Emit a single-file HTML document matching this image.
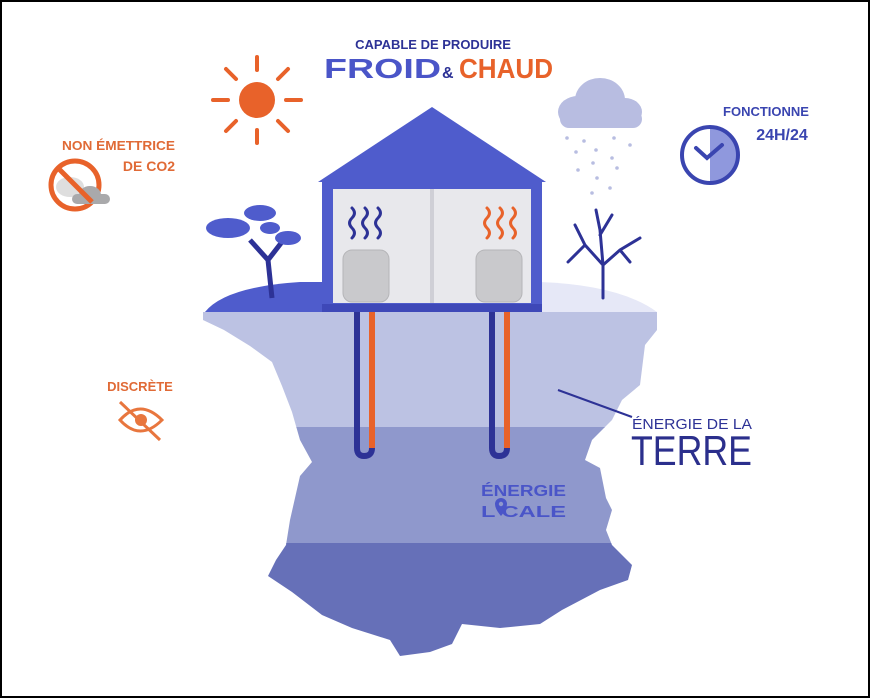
<!DOCTYPE html>
<html><head><meta charset="utf-8"><style>
html,body{margin:0;padding:0;background:#fff}
svg{display:block}
text{font-family:"Liberation Sans",sans-serif;font-weight:bold}
</style></head><body>
<svg width="870" height="698" viewBox="0 0 870 698" xmlns="http://www.w3.org/2000/svg">
<rect x="1" y="1" width="868" height="696" fill="#fff" stroke="#000" stroke-width="2"/>
<defs>
<clipPath id="fr"><path d="M203,312 L657,312 L657,330 L645,345 L640,385 L622,400 L612,420 L592,440 L585,460 L600,468 L606,498 L612,510 L606,530 L612,545 L632,565 L628,580 L600,590 L562,610 L540,624 L500,628 L462,624 L452,644 L430,652 L400,656 L390,640 L352,628 L322,615 L292,592 L268,576 L276,560 L286,545 L290,520 L300,476 L312,462 L300,440 L292,412 L282,386 L272,362 L250,346 L224,330 L203,320 Z"/></clipPath>
</defs>
<path d="M205,312 Q230,285 330,282 L540,282 Q620,285 657,312 Z" fill="#e6e8f7"/>
<path d="M205,312 Q225,287 300,282 L330,282 L330,312 Z" fill="#4f5ccc"/>
<g clip-path="url(#fr)">
<rect x="200" y="310" width="470" height="118" fill="#bcc2e3"/>
<rect x="200" y="427" width="470" height="117" fill="#8f98cc"/>
<rect x="200" y="543" width="470" height="120" fill="#6670b8"/>
</g>
<path d="M357,305 L357,448 Q357,456 364,456 Q372,456 372,448 L372,305" fill="none" stroke="#2d3296" stroke-width="6"/>
<path d="M372,305 L372,448" stroke="#e8622a" stroke-width="6"/>
<path d="M492,305 L492,448 Q492,456 499,456 Q507,456 507,448 L507,305" fill="none" stroke="#2d3296" stroke-width="6"/>
<path d="M507,305 L507,448" stroke="#e8622a" stroke-width="6"/>
<polygon points="432,107 318,182 546,182" fill="#4f5ccc"/>
<rect x="322" y="182" width="220" height="125" fill="#4f5ccc"/>
<rect x="333" y="189" width="198" height="114" fill="#e8e8ec"/>
<rect x="430" y="189" width="4" height="114" fill="#cfcfd6"/>
<rect x="322" y="304" width="220" height="8" fill="#3e48b8"/>
<rect x="343" y="250" width="46" height="52" rx="9" fill="#c9c9cc" stroke="#b5b5b8"/>
<rect x="476" y="250" width="46" height="52" rx="9" fill="#c9c9cc" stroke="#b5b5b8"/>
<g fill="none" stroke-width="3" stroke-linecap="round">
<g stroke="#2d3296">
<path d="M352,208 q5,5 0,10 q-5,5 0,10 q5,5 0,10"/><path d="M365,208 q5,5 0,10 q-5,5 0,10 q5,5 0,10"/><path d="M378,208 q5,5 0,10 q-5,5 0,10 q5,5 0,10"/></g>
<g stroke="#e8622a">
<path d="M487,208 q5,5 0,10 q-5,5 0,10 q5,5 0,10"/><path d="M500,208 q5,5 0,10 q-5,5 0,10 q5,5 0,10"/><path d="M513,208 q5,5 0,10 q-5,5 0,10 q5,5 0,10"/></g>
</g>
<path d="M272,298 L268,260 L250,240 M268,260 L285,238" stroke="#2d3296" stroke-width="5" fill="none"/>
<g fill="#4f5ccc"><ellipse cx="228" cy="228" rx="22" ry="10"/><ellipse cx="260" cy="213" rx="16" ry="8"/><ellipse cx="288" cy="238" rx="13" ry="7"/><ellipse cx="270" cy="228" rx="10" ry="6"/></g>
<g stroke="#2d3296" stroke-width="3" fill="none" stroke-linecap="round">
<path d="M603,298 L603,265 L585,245 L575,225 M603,265 L620,250 L640,238 M603,265 L600,230 L596,210 M600,235 L612,215 M585,245 L568,262 M620,250 L630,262"/></g>
<circle cx="257" cy="100" r="18" fill="#e8622a"/>
<g stroke="#e8622a" stroke-width="4" stroke-linecap="round">
<line x1="257" y1="57" x2="257" y2="70"/><line x1="257" y1="130" x2="257" y2="143"/><line x1="213" y1="100" x2="228" y2="100"/><line x1="286" y1="100" x2="301" y2="100"/>
<line x1="226" y1="69" x2="236" y2="79"/><line x1="278" y1="121" x2="288" y2="131"/><line x1="226" y1="131" x2="236" y2="121"/><line x1="278" y1="79" x2="288" y2="69"/></g>
<g fill="#b8bde1"><ellipse cx="600" cy="100" rx="25" ry="22"/><ellipse cx="578" cy="112" rx="20" ry="16"/><ellipse cx="625" cy="112" rx="17" ry="14"/><rect x="560" y="110" width="82" height="18" rx="9"/></g>
<g fill="#b8bde1"><circle cx="567" cy="138" r="1.8"/><circle cx="584" cy="141" r="1.8"/><circle cx="614" cy="138" r="1.8"/><circle cx="630" cy="145" r="1.8"/><circle cx="576" cy="152" r="1.8"/><circle cx="596" cy="150" r="1.8"/><circle cx="612" cy="158" r="1.8"/><circle cx="593" cy="163" r="1.8"/><circle cx="578" cy="170" r="1.8"/><circle cx="617" cy="168" r="1.8"/><circle cx="597" cy="178" r="1.8"/><circle cx="592" cy="193" r="1.8"/><circle cx="610" cy="188" r="1.8"/></g>
<path d="M710,127 A28,28 0 0 1 710,183 Z" fill="#8f98dd"/>
<circle cx="710" cy="155" r="28" fill="none" stroke="#3a45b0" stroke-width="4"/>
<path d="M696,148 L707,158 L722,145" stroke="#3a45b0" stroke-width="4" fill="none" stroke-linecap="round"/>
<text x="766" y="116" font-size="13" fill="#3a45b0" text-anchor="middle">FONCTIONNE</text>
<text x="782" y="140" font-size="16" fill="#3a45b0" text-anchor="middle">24H/24</text>
<text x="433" y="49" font-size="13" fill="#2d3296" text-anchor="middle">CAPABLE DE PRODUIRE</text>
<text x="324" y="78" font-size="28" fill="#4a55c8" textLength="117" lengthAdjust="spacingAndGlyphs">FROID</text>
<text x="442" y="78" font-size="16" fill="#2d3296">&amp;</text>
<text x="459" y="78" font-size="28" fill="#e8622a" textLength="94" lengthAdjust="spacingAndGlyphs">CHAUD</text>
<text x="62" y="150" font-size="13" fill="#e06a36" textLength="113" lengthAdjust="spacingAndGlyphs">NON ÉMETTRICE</text>
<text x="175" y="171" font-size="14" fill="#e06a36" text-anchor="end">DE CO2</text>
<circle cx="75" cy="185" r="24" fill="none" stroke="#e8622a" stroke-width="5"/>
<g fill="#dedede"><ellipse cx="70" cy="187" rx="14" ry="10"/></g>
<g fill="#a9a9ab"><ellipse cx="90" cy="195" rx="11" ry="9"/><rect x="72" y="194" width="38" height="10" rx="5"/></g>
<line x1="58" y1="168" x2="92" y2="202" stroke="#e8622a" stroke-width="5"/>
<text x="140" y="391" font-size="13" fill="#e06a36" text-anchor="middle">DISCRÈTE</text>
<path d="M120,420 Q140,398 162,420 Q140,442 120,420 Z" fill="none" stroke="#e8763e" stroke-width="3"/>
<circle cx="141" cy="420" r="6" fill="#e8763e"/>
<line x1="120" y1="402" x2="160" y2="440" stroke="#e8763e" stroke-width="3"/>
<line x1="558" y1="390" x2="632" y2="417" stroke="#2d3296" stroke-width="2"/>
<text x="632" y="429" font-size="15" fill="#2d3296" style="font-weight:normal" textLength="120" lengthAdjust="spacingAndGlyphs">ÉNERGIE DE LA</text>
<text x="631" y="465" font-size="42" fill="#2b2f8c" style="font-weight:normal" textLength="121" lengthAdjust="spacingAndGlyphs">TERRE</text>
<text x="481" y="496" font-size="16" fill="#4a55c8" textLength="85" lengthAdjust="spacingAndGlyphs">ÉNERGIE</text>
<text x="481" y="517" font-size="16" fill="#4a55c8" textLength="85" lengthAdjust="spacingAndGlyphs">L  CALE</text>
<path d="M495,504 a6,6 0 1 1 12,0 q0,5 -6,12 q-6,-7 -6,-12z" fill="#4a55c8"/>
<circle cx="501" cy="504" r="2.2" fill="#8f98cc"/>
</svg>
</body></html>
